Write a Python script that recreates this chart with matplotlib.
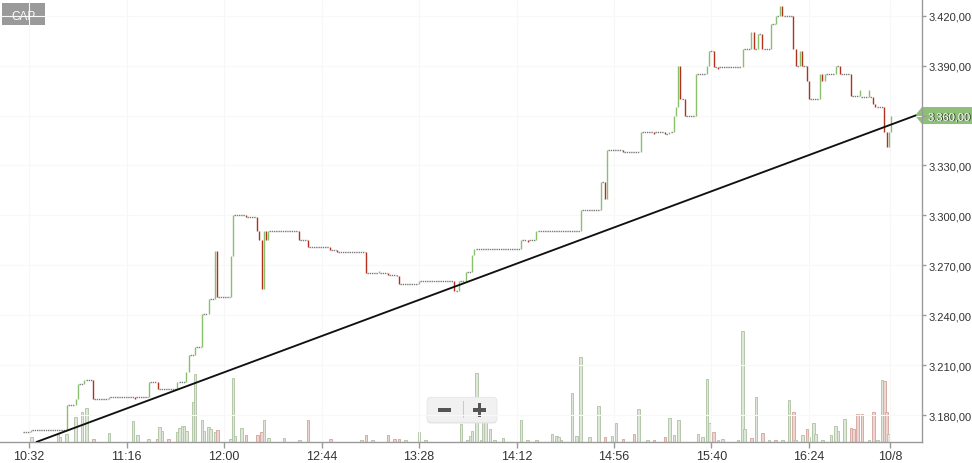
import matplotlib
matplotlib.use('Agg')
import matplotlib.pyplot as plt
from matplotlib.patches import Polygon, Rectangle, FancyBboxPatch
from matplotlib.transforms import IdentityTransform
from matplotlib.ticker import FixedLocator, FuncFormatter

plt.rcParams['font.family'] = ['Liberation Sans', 'DejaVu Sans']

symbol = 'CAP'

# price candles: minutes after 10:32, open, close
candle_time = [-3, 1, 17, 21, 22, 25, 29, 36, 48, 54, 58, 67, 71, 72, 75, 78, 81, 84, 85, 91,
               92, 98, 103, 104, 105, 106, 107, 108, 122, 126, 136, 139, 152, 158, 162, 166, 167, 176, 192, 194,
               197, 200, 201, 222, 225, 229, 249, 258, 260, 261, 268, 276, 282, 287, 289, 291, 292, 293, 294, 296,
               301, 306, 307, 309, 311, 322, 326, 327, 329, 331, 335, 337, 339, 340, 345, 346, 348, 349, 351, 352,
               357, 358, 359, 364, 366, 371, 375, 379, 381, 382, 386, 387, 388, 389]
candle_open = [3170, 3170, 3171, 3186, 3190, 3199, 3201, 3190, 3191, 3191, 3200, 3196, 3200, 3206, 3216, 3221, 3241, 3250, 3278.5, 3251,
               3275.5, 3300, 3299, 3290.5, 3285, 3256, 3290.5, 3285, 3290.5, 3285, 3281, 3279, 3278, 3265.5, 3265.5, 3264, 3263.5, 3259, 3260.5, 3254.5,
               3260.5, 3266, 3276.5, 3280, 3285, 3285, 3290.5, 3303, 3320, 3310, 3339.5, 3338, 3350, 3350, 3349, 3350, 3360, 3365, 3390, 3370,
               3360, 3385, 3390, 3399, 3389, 3389, 3400, 3410, 3400, 3409, 3400, 3415, 3420, 3425.5, 3420, 3400, 3390, 3398.5, 3390, 3380.5,
               3370, 3385, 3380.5, 3385, 3390, 3385, 3372, 3371, 3371, 3367, 3365, 3350, 3341, 3350]
candle_close = [3170, 3171, 3186, 3190, 3199, 3201, 3190, 3191, 3190, 3200, 3196, 3200, 3206, 3216, 3221, 3241, 3250, 3278.5, 3251, 3275.5,
                3300, 3299, 3290.5, 3285, 3256, 3290.5, 3285, 3290.5, 3285, 3281, 3279, 3278, 3265.5, 3266.5, 3264, 3263.5, 3259, 3260.5, 3254.5, 3260.5,
                3266, 3276.5, 3280, 3285, 3284, 3290.5, 3303, 3320, 3310, 3339.5, 3338, 3350, 3349, 3349, 3350, 3360, 3365, 3390, 3370, 3360,
                3385, 3390, 3399, 3389, 3388, 3400, 3410, 3400, 3409, 3400, 3415, 3420, 3425.5, 3420, 3400, 3390, 3398.5, 3390, 3380.5, 3370,
                3385, 3380.5, 3385, 3390, 3385, 3372, 3375.5, 3375.5, 3367, 3365, 3350, 3341, 3350, 3360]

# volume bars: minutes after 10:32, volume, direction (1 up, 0 down)
vol_time = [1, 13, 14, 17, 21, 24, 26, 29, 36, 47, 49, 54, 58, 59, 60, 63, 67, 68, 69, 70,
            71, 74, 75, 78, 79, 81, 82, 84, 85, 91, 92, 93, 96, 98, 103, 105, 106, 108, 115, 122,
            126, 136, 150, 152, 155, 162, 165, 167, 170, 176, 179, 195, 198, 199, 200, 202, 204, 205, 206, 208,
            210, 214, 222, 225, 229, 236, 238, 239, 240, 245, 247, 249, 253, 257, 260, 263, 265, 268, 273, 275,
            279, 282, 287, 289, 291, 293, 302, 304, 306, 307, 309, 311, 313, 320, 322, 323, 326, 328, 331, 334,
            337, 340, 343, 345, 346, 349, 351, 352, 354, 355, 358, 362, 364, 365, 368, 371, 372, 374, 376, 379,
            381, 383, 385, 386, 387, 388]
vol_value = [47, 77, 50, 77, 247, 297, 334, 27, 87, 204, 67, 27, 27, 150, 110, 27, 94, 140, 160, 160,
             110, 394, 677, 217, 110, 144, 127, 97, 117, 27, 634, 60, 137, 67, 67, 94, 217, 37, 37, 20,
             217, 27, 20, 67, 20, 67, 27, 27, 20, 94, 20, 177, 20, 60, 110, 687, 20, 227, 227, 127,
             20, 34, 217, 20, 20, 77, 54, 44, 20, 487, 60, 844, 44, 354, 44, 60, 184, 27, 77, 327,
             20, 20, 44, 234, 67, 217, 77, 44, 627, 184, 94, 20, 27, 20, 1104, 127, 34, 444, 84, 20,
             20, 20, 417, 294, 20, 67, 127, 44, 184, 77, 20, 67, 154, 110, 227, 137, 127, 277, 277, 20,
             294, 20, 617, 610, 300, 77]
vol_up = [1, 1, 1, 1, 1, 1, 1, 0, 1, 1, 1, 1, 0, 1, 1, 0, 1, 1, 1, 1,
          1, 1, 1, 1, 1, 1, 1, 1, 0, 1, 1, 1, 1, 0, 0, 0, 1, 1, 1, 1,
          0, 0, 1, 0, 1, 0, 0, 0, 1, 1, 1, 1, 1, 1, 1, 1, 1, 1, 1, 1,
          1, 1, 1, 1, 1, 1, 1, 1, 1, 1, 1, 1, 1, 1, 0, 1, 1, 0, 0, 1,
          1, 0, 0, 1, 1, 1, 1, 1, 1, 1, 0, 1, 1, 1, 1, 1, 0, 1, 0, 1,
          0, 1, 1, 0, 1, 1, 0, 1, 1, 1, 1, 1, 1, 1, 1, 0, 0, 0, 0, 1,
          0, 1, 1, 0, 0, 1]

trend_time = [3.5, 400]
trend_price = [3164, 3360]

tick_minutes = [0, 44, 88, 132, 176, 220, 264, 308, 352, 388.5]
tick_labels = ['10:32', '11:16', '12:00', '12:44', '13:28', '14:12', '14:56', '15:40', '16:24', '10/8']
price_ticks = [3180, 3210, 3240, 3270, 3300, 3330, 3360, 3390, 3420]
last_price = 3360

W, H = 972, 464
fig = plt.figure(figsize=(W / 100, H / 100), dpi=100)
fig.patch.set_facecolor('white')
rect = [0, (H - 442.7) / H, 922 / W, 442.7 / H]

axv = fig.add_axes(rect)
ax = fig.add_axes(rect)
axv.set_zorder(0)
ax.set_zorder(1)
ax.patch.set_visible(False)

XLIM = (-13.1, 403.0)
YLIM = (3164.1, 3430.0)

# volume
axv.set_xlim(*XLIM)
axv.set_ylim(0, 4427)
axv.axis('off')
for t, v, u in zip(vol_time, vol_value, vol_up):
    fc = '#dfe7da' if u else '#efd5d1'
    ec = '#b6c8ab' if u else '#d8aca5'
    axv.bar(t, v, width=1.15, color=fc, edgecolor=ec, linewidth=0.7, zorder=1)

# grid
for m in tick_minutes:
    ax.axvline(m, color='#f7f7f7', lw=0.8, zorder=0)
for p in price_ticks:
    ax.axhline(p, color='#f8f8f8', lw=0.8, zorder=0)

# flat stretches (doji dashes)
for i in range(len(candle_time) - 1):
    t0 = candle_time[i] + 0.5
    t1 = candle_time[i + 1] - 0.5
    if t1 > t0:
        ax.plot([t0, t1], [candle_open[i + 1]] * 2, color='#7a7a7a', lw=1.0,
                ls=(0, (1.0, 0.6)), zorder=2, solid_capstyle='butt')

# candles
for t, o, c in zip(candle_time, candle_open, candle_close):
    if o == c:
        continue
    col = '#88c06c' if c > o else '#b3301a'
    ax.plot([t, t], [o, c], color=col, lw=1.0, zorder=3, solid_capstyle='butt')

# trend line
ax.plot(trend_time, trend_price, color='#111111', lw=1.35, zorder=4)

ax.set_xlim(*XLIM)
ax.set_ylim(*YLIM)

for s in ['top', 'left']:
    ax.spines[s].set_visible(False)
for s in ['right', 'bottom']:
    ax.spines[s].set_color('#9a9a9a')
    ax.spines[s].set_linewidth(1.0)

ax.yaxis.tick_right()
ax.yaxis.set_major_locator(FixedLocator(price_ticks))


def fmt_price(v, pos=None):
    s = f"{v:,.2f}"
    return s.replace(',', 'X').replace('.', ',').replace('X', '.')


ax.yaxis.set_major_formatter(FuncFormatter(fmt_price))
ax.set_xticks(tick_minutes)
ax.set_xticklabels(tick_labels)
ax.tick_params(axis='y', direction='out', length=3, width=1, color='#9a9a9a',
               labelsize=8, labelcolor='#333333', pad=2)
ax.tick_params(axis='x', direction='out', length=4, width=1, color='#9a9a9a',
               labelsize=9, labelcolor='#333333', pad=2)

# last price tag
fig.canvas.draw()
yd = ax.transData.transform((0, last_price))[1]
tag = Polygon([[915, yd], [922, yd + 8.5], [W, yd + 8.5], [W, yd - 8.5], [922, yd - 8.5]],
              closed=True, facecolor='#8dc076', edgecolor='none', transform=IdentityTransform())
fig.add_artist(tag)
fig.text(927.5 / W, yd / H, fmt_price(last_price), color='white', fontsize=8,
         ha='left', va='center_baseline')

# symbol label
fig.add_artist(Rectangle((2, H - 26), 43, 22, facecolor='#9a9a9a', edgecolor='none',
                         transform=IdentityTransform()))
fig.text(23.5 / W, (H - 15.5) / H, symbol, color='white', fontsize=8.5, ha='center',
         va='center_baseline')

# zoom buttons
fig.add_artist(FancyBboxPatch((427, H - 424.5), 70, 25, boxstyle='round,pad=0,rounding_size=4',
                              facecolor='#e2e2e2', edgecolor='none', transform=IdentityTransform()))
fig.add_artist(FancyBboxPatch((427, H - 423.3), 70, 25, boxstyle='round,pad=0,rounding_size=4',
                              facecolor='#f1f1f1', edgecolor='#e6e6e6', lw=0.6,
                              transform=IdentityTransform()))
fig.add_artist(Rectangle((463, H - 419.3), 0.8, 17.5, facecolor='#c8c8c8', edgecolor='none',
                         transform=IdentityTransform()))
fig.add_artist(Rectangle((437.7, H - 412.7), 13.3, 3.3, facecolor='#555555', edgecolor='none',
                         transform=IdentityTransform()))
fig.add_artist(Rectangle((472.7, H - 412.7), 13.3, 3.3, facecolor='#555555', edgecolor='none',
                         transform=IdentityTransform()))
fig.add_artist(Rectangle((477.7, H - 417.7), 3.3, 13.3, facecolor='#555555', edgecolor='none',
                         transform=IdentityTransform()))

fig.savefig('out.png', dpi=100)
